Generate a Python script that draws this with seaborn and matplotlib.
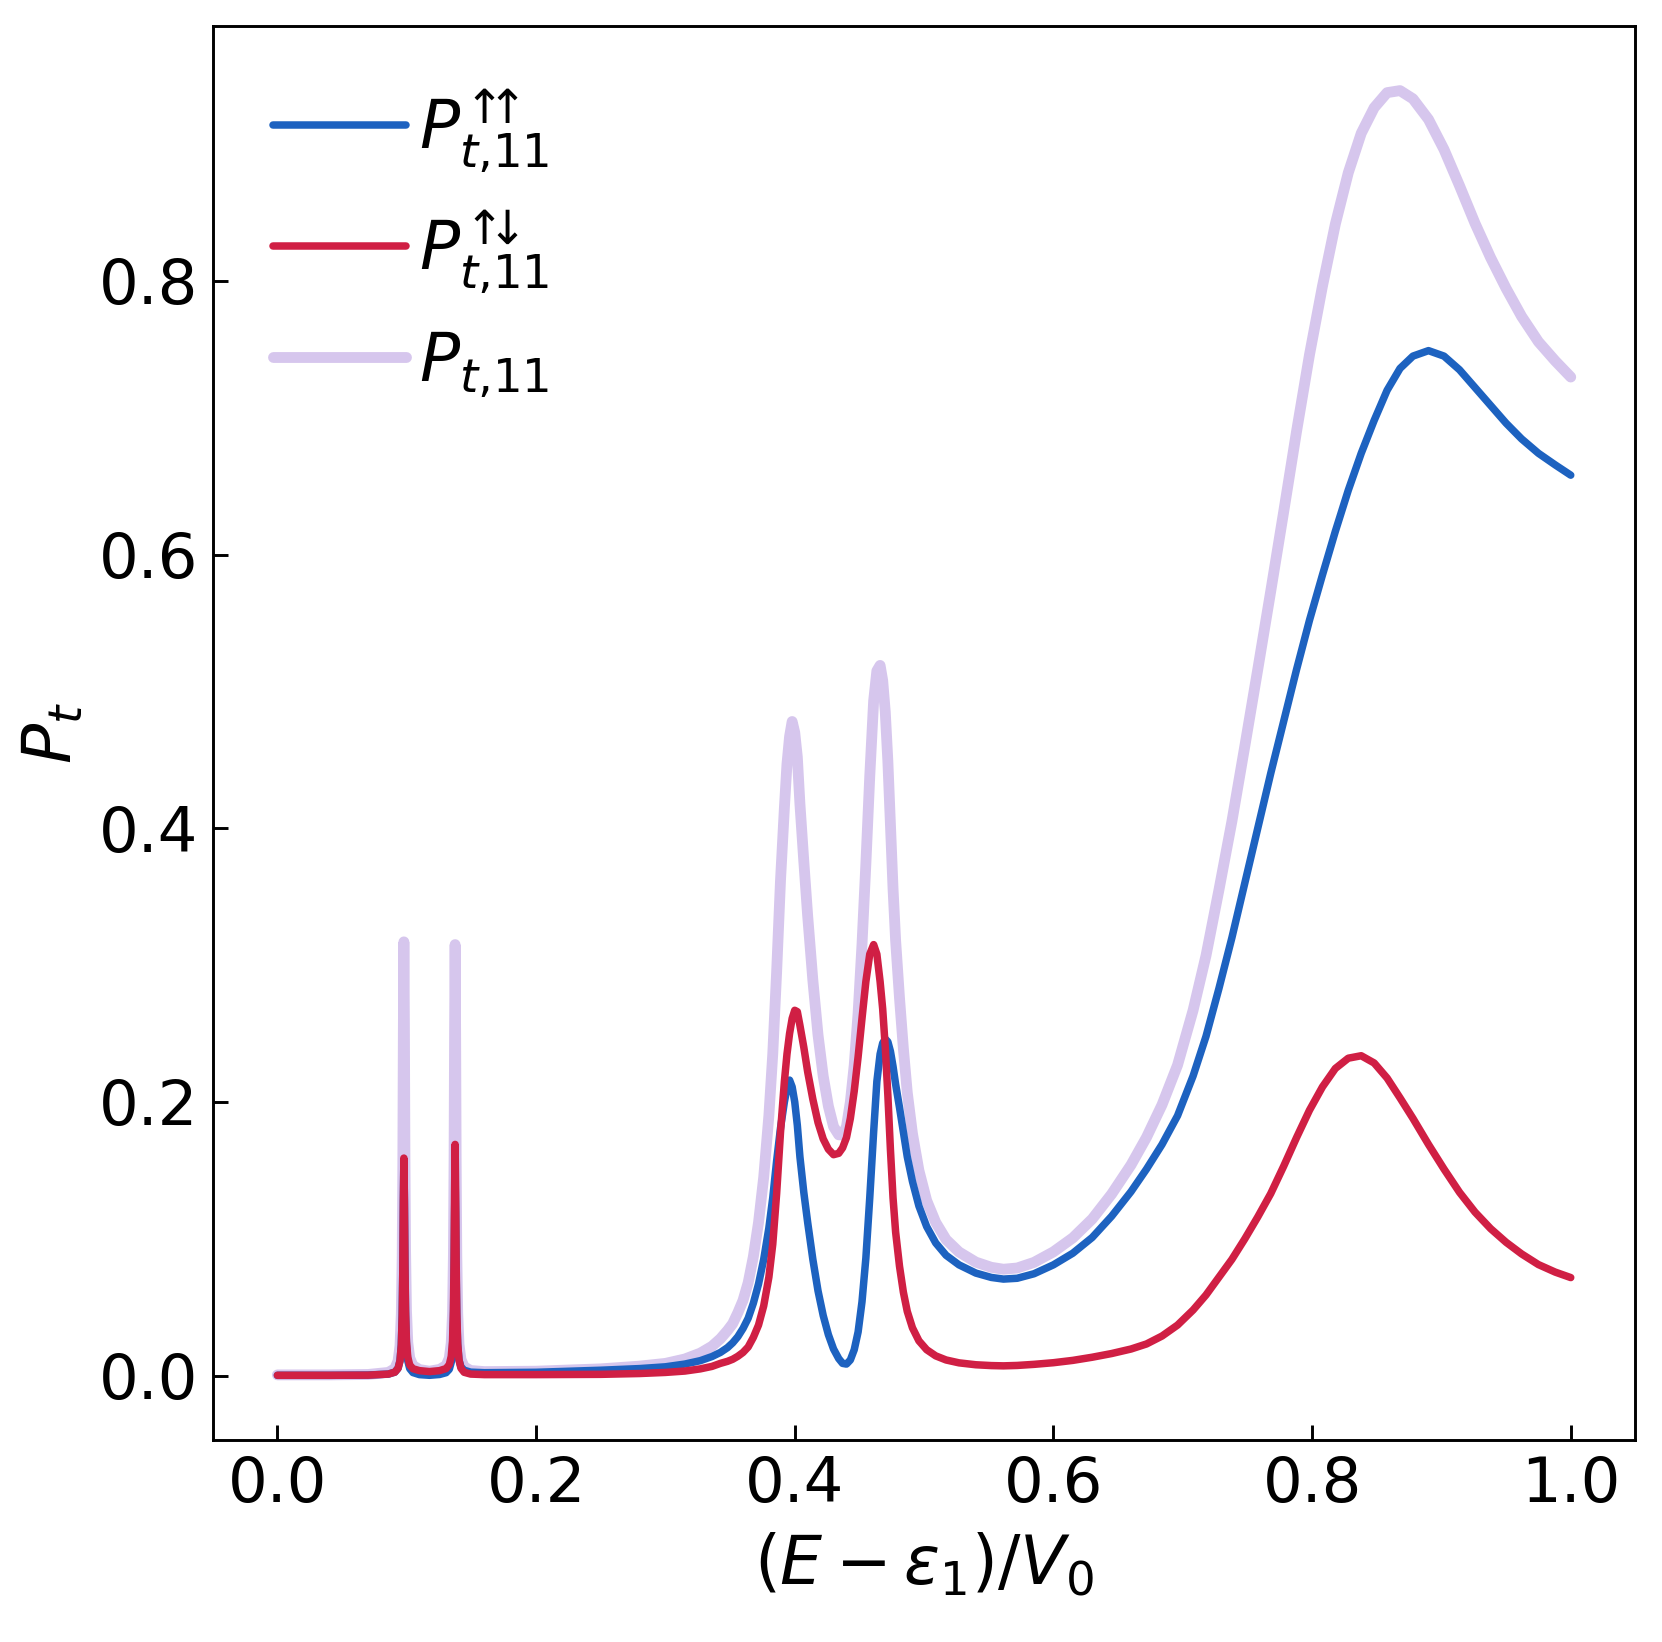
import matplotlib
matplotlib.use("Agg")
import matplotlib.pyplot as plt
import seaborn as sns
import pandas as pd

# energy axis (E - eps_1)/V0
energy = [
    0.000, 0.040, 0.070, 0.0858, 0.0908, 0.0933, 0.0948, 0.0958, 0.0965, 0.0970,
    0.0974, 0.0978, 0.0982, 0.0986, 0.0991, 0.0998, 0.1008, 0.1023, 0.1048, 0.1098,
    0.1176, 0.1254, 0.1304, 0.1329, 0.1344, 0.1354, 0.1361, 0.1366, 0.1370, 0.1374,
    0.1378, 0.1382, 0.1387, 0.1394, 0.1404, 0.1419, 0.1444, 0.1494,
    0.160, 0.200, 0.250, 0.280, 0.300, 0.315, 0.327, 0.336, 0.3425, 0.348,
    0.352, 0.356, 0.360, 0.364, 0.368, 0.372, 0.376, 0.380, 0.383, 0.386,
    0.389, 0.392, 0.394, 0.396, 0.398, 0.400, 0.402, 0.404, 0.407, 0.410,
    0.414, 0.418, 0.422, 0.426, 0.430, 0.434, 0.437, 0.440, 0.443, 0.446,
    0.449, 0.452, 0.455, 0.458, 0.461, 0.4635, 0.466, 0.468, 0.470, 0.472,
    0.474, 0.476, 0.478, 0.481, 0.484, 0.487, 0.491, 0.496, 0.502, 0.509,
    0.517, 0.527, 0.540, 0.552, 0.5614, 0.572, 0.585, 0.600, 0.615, 0.630,
    0.645, 0.660, 0.672, 0.684, 0.696, 0.708, 0.718, 0.728, 0.738, 0.748,
    0.758, 0.768, 0.778, 0.788, 0.798, 0.808, 0.818, 0.828, 0.838, 0.848,
    0.858, 0.868, 0.878, 0.890, 0.902, 0.914, 0.926, 0.938, 0.950, 0.962,
    0.975, 0.988, 1.000,
]

# P_t,11^{up up}
p_uu = [
    0.0003, 0.0003, 0.0005, 0.0012, 0.0026, 0.0054, 0.0109, 0.0223, 0.0440, 0.079,
    0.127, 0.158, 0.127, 0.079, 0.044, 0.0225, 0.0108, 0.0052, 0.0023, 0.0008,
    0.0003, 0.0009, 0.0022, 0.0047, 0.0098, 0.0204, 0.0404, 0.0735, 0.117, 0.146,
    0.118, 0.075, 0.042, 0.0225, 0.0115, 0.0065, 0.0040, 0.0026,
    .0022, .0025, .0040, .0052, .0065, .0085, .0110, .0140, .0170, .0205,
    .0240, .0285, .0345, .0420, .0530, .0670, .0850, .1080, .1300, .1570,
    .1810, .2000, .2100, .2160, .2110, .2000, .1830, .1600, .1340, .1120,
    .0850, .0620, .0440, .0300, .0195, .0125, .0090, .0085, .0115, .0190,
    .0320, .0540, .0860, .1300, .1780, .2150, .2350, .2430, .2460, .2440,
    .2370, .2260, .2130, .1960, .1780, .1600, .1420, .1240, .1090, .0970,
    .0880, .0810, .0750, .0718, .0706, .0712, .0745, .0810, .0895, .1010,
    .1165, .1345, .1510, .1690, .1900, .2190, .2480, .2830, .3200, .3600,
    .4000, .4400, .4780, .5160, .5520, .5850, .6170, .6470, .6740, .6980,
    .7200, .7360, .7450, .7490, .7450, .7350, .7220, .7090, .6960, .6845,
    .6740, .6655, .6580,
]

# P_t,11^{up down}
p_ud = [
    0.0003, 0.0003, 0.0004, 0.0012, 0.0026, 0.0054, 0.0110, 0.0224, 0.0442, 0.080,
    0.128, 0.159, 0.129, 0.082, 0.047, 0.025, 0.0135, 0.0078, 0.0051, 0.0037,
    0.0030, 0.0037, 0.0052, 0.0081, 0.0140, 0.0250, 0.0480, 0.0860, 0.135, 0.169,
    0.134, 0.084, 0.046, 0.0235, 0.0115, 0.0055, 0.0025, 0.0012,
    .0008, .0008, .0010, .0016, .0024, .0034, .0050, .0068, .0090, .0105,
    .0120, .0142, .0170, .0210, .0280, .0370, .0510, .0720, .0960, .1330,
    .1780, .2150, .2350, .2500, .2610, .2670, .2660, .2560, .2400, .2220,
    .2020, .1850, .1730, .1655, .1615, .1625, .1665, .1740, .1880, .2080,
    .2330, .2610, .2880, .3080, .3150, .3080, .2880, .2680, .2400, .2050,
    .1650, .1300, .1050, .0800, .0610, .0470, .0350, .0255, .0190, .0145,
    .0115, .0094, .0080, .0074, .0072, .0075, .0083, .0095, .0112, .0135,
    .0162, .0195, .0232, .0290, .0370, .0480, .0590, .0720, .0850, .1000,
    .1160, .1330, .1530, .1740, .1940, .2110, .2245, .2320, .2338, .2285,
    .2175, .2030, .1880, .1690, .1510, .1340, .1195, .1075, .0975, .0890,
    .0812, .0757, .0717,
]

# P_t,11 (total)
p_tot = [
    0.0006, 0.0006, 0.0009, 0.0024, 0.0052, 0.0108, 0.0219, 0.0447, 0.0882, 0.159,
    0.255, 0.317, 0.256, 0.161, 0.091, 0.0475, 0.0243, 0.0130, 0.0074, 0.0045,
    0.0033, 0.0046, 0.0074, 0.0128, 0.0238, 0.0454, 0.0884, 0.1595, 0.252, 0.315,
    0.252, 0.159, 0.088, 0.046, 0.023, 0.012, 0.0065, 0.0038,
    .0030, .0033, .0050, .0070, .0090, .0122, .0165, .0215, .0270, .0330,
    .0380, .0460, .0550, .0680, .0870, .1120, .1450, .1900, .2350, .2950,
    .3620, .4150, .4470, .4670, .4780, .4700, .4520, .4180, .3760, .3360,
    .2890, .2490, .2190, .1970, .1820, .1760, .1760, .1820, .2000, .2270,
    .2650, .3150, .3740, .4380, .4930, .5150, .5190, .5080, .4850, .4490,
    .4020, .3560, .3180, .2760, .2390, .2070, .1770, .1500, .1280, .1120,
    .0995, .0904, .0830, .0792, .0778, .0787, .0828, .0905, .1007, .1145,
    .1327, .1540, .1742, .1980, .2270, .2670, .3070, .3550, .4050, .4600,
    .5160, .5730, .6310, .6900, .7460, .7960, .8415, .8790, .9078, .9265,
    .9375, .9390, .9330, .9180, .8960, .8695, .8420, .8170, .7945, .7740,
    .7555, .7415, .7297,
]

assert len(energy) == len(p_uu) == len(p_ud) == len(p_tot)

labels = [r"$P^{\text{↑}\!\!\text{↑}}_{t{,}11}$",
          r"$P^{\text{↑}\!\!\text{↓}}_{t{,}11}$",
          r"$P_{t{,}11}$"]
colors = ["#1D62C0", "#D01F44", "#D6C6ED"]

df = pd.DataFrame({"E": energy, "uu": p_uu, "ud": p_ud, "tot": p_tot})

sns.set_style("ticks")
plt.rcParams["font.family"] = ["DejaVu Sans"]
plt.rcParams["mathtext.fontset"] = "dejavusans"
for key in ["text.color", "axes.labelcolor", "xtick.color", "ytick.color", "axes.edgecolor"]:
    plt.rcParams[key] = "black"

fig, ax = plt.subplots(figsize=(1662 / 300, 1642 / 300), dpi=300)
fig.subplots_adjust(left=0.128, right=0.984, top=0.984, bottom=0.123)

sns.lineplot(data=df, x="E", y="tot", ax=ax, color=colors[2], linewidth=2.6,
             label=labels[2], estimator=None, sort=False)
sns.lineplot(data=df, x="E", y="uu", ax=ax, color=colors[0], linewidth=1.8,
             label=labels[0], estimator=None, sort=False)
sns.lineplot(data=df, x="E", y="ud", ax=ax, color=colors[1], linewidth=1.8,
             label=labels[1], estimator=None, sort=False)

ax.set_xlim(-0.05, 1.05)
ax.set_ylim(-0.047, 0.986)
ax.set_xticks([0.0, 0.2, 0.4, 0.6, 0.8, 1.0])
ax.set_yticks([0.0, 0.2, 0.4, 0.6, 0.8])
ax.set_xticklabels(["0.0", "0.2", "0.4", "0.6", "0.8", "1.0"])
ax.set_yticklabels(["0.0", "0.2", "0.4", "0.6", "0.8"])
ax.tick_params(direction="in", length=3.5, width=0.7, labelsize=15,
               top=False, right=False, colors="black")
for sp in ax.spines.values():
    sp.set_linewidth(0.7)
    sp.set_color("black")
    sp.set_visible(True)

ax.set_xlabel(r"$(E-\varepsilon_1)/V_0$", fontsize=16)
ax.set_ylabel(r"$P_t$", fontsize=16, labelpad=3)

handles, labs = ax.get_legend_handles_labels()
order = [1, 2, 0]
ax.legend([handles[i] for i in order], [labs[i] for i in order], loc="upper left",
          frameon=False, fontsize=16, handlelength=2.0, handletextpad=0.2,
          labelspacing=0.5)

fig.savefig("out.png", dpi=300)
